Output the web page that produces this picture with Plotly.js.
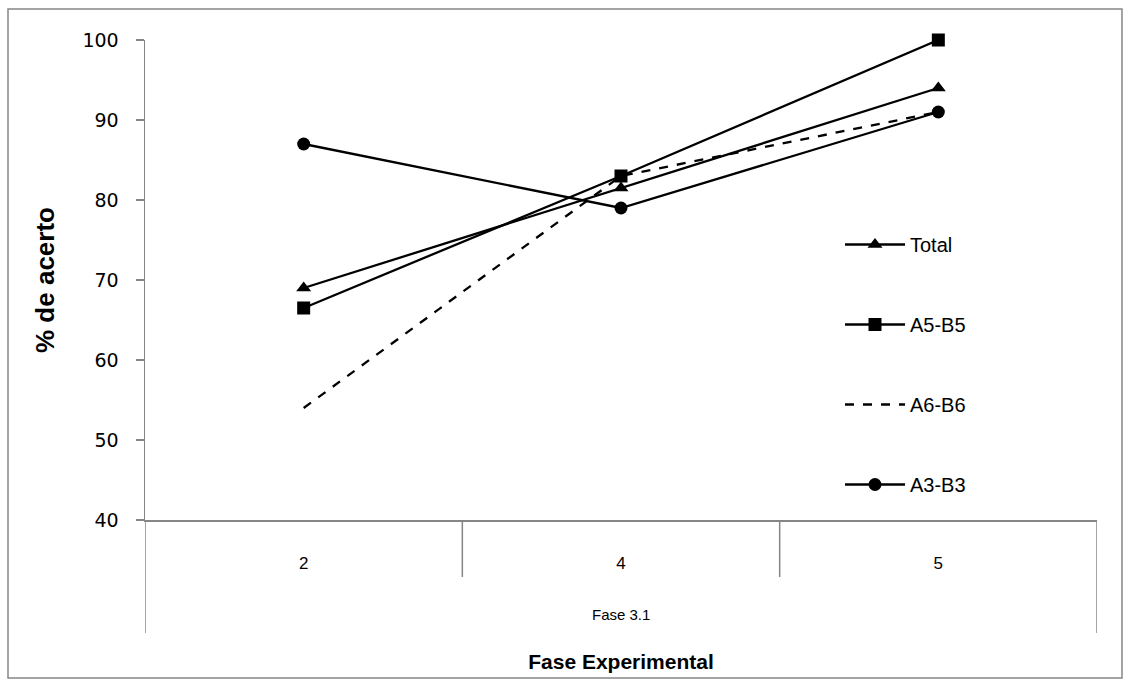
<!DOCTYPE html>
<html>
<head>
<meta charset="utf-8">
<script src="https://cdn.plot.ly/plotly-3.0.1.min.js"></script>
<style>
  html, body { margin: 0; padding: 0; background: #ffffff; }
  #chart { width: 1131px; height: 680px; }
</style>
</head>
<body>
<div id="chart"></div>
<script>
// Experimental phases (categories) and group label
const phases = ["2", "4", "5"];
const phaseGroup = "Fase 3.1";

// Percentage of correct answers per relation
const total = [69, 81.5, 94];
const a5b5 = [66.5, 83, 100];
const a6b6 = [54, 83, 91];
const a3b3 = [87, 79, 91];

const yTicks = [40, 50, 60, 70, 80, 90, 100];

const gridGrey = "#868686";
const numFont = "DejaVu Sans, Verdana, sans-serif";
const textFont = "Liberation Sans, Arial, sans-serif";

function series(name, values, symbol, dash) {
  const t = {
    type: "scatter",
    mode: symbol ? "lines+markers" : "lines",
    name: name,
    legendgroup: name,
    x: phases,
    y: values,
    line: { color: "#000000", width: 2.3, dash: dash || "solid" },
    cliponaxis: false
  };
  if (symbol) t.marker = { symbol: symbol, size: 13, color: "#000000" };
  return t;
}

const traces = [
  series("Total", total, "triangle-up"),
  series("A5-B5", a5b5, "square"),
  series("A6-B6", a6b6, null, "dash"),
  series("A3-B3", a3b3, "circle")
];

// Plot area spans 145..1097 px horizontally and 40..520 px vertically
const plotH = 480;
const py = (p) => (520 - p) / plotH;   // pixel row -> paper y
const pxw = 952;
const px = (p) => (p - 145) / pxw;     // pixel column -> paper x

const line = (x0, y0, x1, y1) => ({
  type: "line", xref: "x", yref: "paper",
  x0: x0, x1: x1, y0: y0, y1: y1,
  line: { color: gridGrey, width: 1.5 }
});

const shapes = [
  // dividers between phase categories
  line(0.5, 0, 0.5, py(577)),
  line(1.5, 0, 1.5, py(577)),
  // outer dividers of the phase group
  line(-0.5, 0, -0.5, py(633)),
  line(2.5, 0, 2.5, py(633)),
  // chart frame
  {
    type: "rect", xref: "paper", yref: "paper",
    x0: px(8), x1: px(1122), y0: py(678), y1: py(9),
    line: { color: gridGrey, width: 1.5 }, fillcolor: "rgba(0,0,0,0)"
  }
];

const layout = {
  width: 1131,
  height: 680,
  margin: { l: 145, r: 34, t: 40, b: 160 },
  paper_bgcolor: "#ffffff",
  plot_bgcolor: "#ffffff",
  showlegend: true,
  legend: {
    x: px(840), y: py(225), xanchor: "left", yanchor: "top",
    font: { family: textFont, size: 20, color: "#000000" },
    tracegroupgap: 51,
    itemwidth: 60,
    bgcolor: "rgba(0,0,0,0)"
  },
  xaxis: {
    type: "category",
    categoryarray: phases,
    range: [-0.5, 2.5],
    showgrid: false,
    zeroline: false,
    showline: true,
    linecolor: gridGrey,
    linewidth: 1.5,
    ticks: "outside",
    ticklen: 27,
    tickcolor: "rgba(0,0,0,0)",
    tickfont: { family: textFont, size: 17, color: "#000000" },
    title: {
      text: "<b>Fase Experimental</b>",
      font: { family: textFont, size: 21, color: "#000000" },
      standoff: 82
    },
    automargin: false
  },
  yaxis: {
    range: [40, 100],
    tickvals: yTicks,
    showgrid: false,
    zeroline: false,
    showline: true,
    linecolor: gridGrey,
    linewidth: 1.5,
    ticks: "outside",
    ticklen: 8,
    tickcolor: gridGrey,
    tickwidth: 1.5,
    ticklabelstandoff: 13,
    tickfont: { family: numFont, size: 19, color: "#000000" },
    title: {
      text: "<b>% de acerto</b>",
      font: { family: textFont, size: 26, color: "#000000" },
      standoff: 20
    },
    automargin: false
  },
  shapes: shapes,
  annotations: [
    {
      xref: "x", yref: "paper",
      x: 1, y: py(614),
      text: phaseGroup,
      showarrow: false,
      font: { family: textFont, size: 15, color: "#000000" },
      xanchor: "center", yanchor: "middle"
    }
  ]
};

Plotly.newPlot("chart", traces, layout, { displayModeBar: false, staticPlot: true });
</script>
</body>
</html>
